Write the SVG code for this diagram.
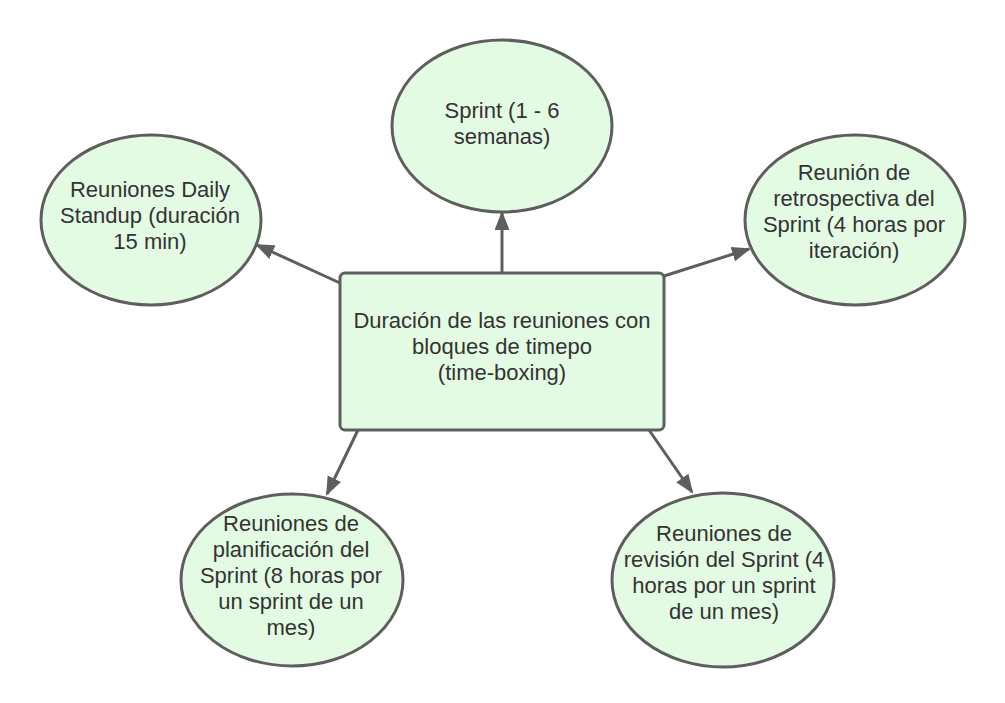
<svg xmlns="http://www.w3.org/2000/svg" width="1005" height="703" viewBox="0 0 1005 703">
<style>
.node{fill:#e3fae3;stroke:#5e5e5e;stroke-width:3}
.lbl{font-family:"Liberation Sans",Arial,sans-serif;font-size:22px;fill:#333333;text-anchor:middle}
.edge{stroke:#5e5e5e;stroke-width:3;fill:none;marker-end:url(#arr)}
</style>
<defs>
<marker id="arr" markerUnits="userSpaceOnUse" markerWidth="20" markerHeight="16" refX="17" refY="7.5" orient="auto">
<path d="M0,0 L19,7.5 L0,15 z" fill="#5e5e5e"/>
</marker>
</defs>
<rect width="1005" height="703" fill="#ffffff"/>
<g id="connectors">
<path class="edge" d="M502,272 L502,213"/>
<path class="edge" d="M340,283 L257,245"/>
<path class="edge" d="M664,276 L749,249"/>
<path class="edge" d="M358,430 L327,494"/>
<path class="edge" d="M649,430 L692,492"/>
</g>
<g id="center">
<rect class="node" x="340" y="273" width="324" height="157" rx="5"/>
<text class="lbl" x="502" y="328">Duración de las reuniones con</text>
<text class="lbl" x="502" y="354">bloques de timepo</text>
<text class="lbl" x="502" y="380">(time-boxing)</text>
</g>
<g id="sprint">
<ellipse class="node" cx="502" cy="126" rx="110" ry="86"/>
<text class="lbl" x="502" y="118">Sprint (1 - 6</text>
<text class="lbl" x="502" y="144">semanas)</text>
</g>
<g id="daily">
<ellipse class="node" cx="151" cy="220" rx="110" ry="85"/>
<text class="lbl" x="150" y="197">Reuniones Daily</text>
<text class="lbl" x="150" y="223">Standup (duración</text>
<text class="lbl" x="150" y="249">15 min)</text>
</g>
<g id="retro">
<ellipse class="node" cx="855" cy="220" rx="110" ry="85"/>
<text class="lbl" x="854" y="180">Reunión de</text>
<text class="lbl" x="854" y="206">retrospectiva del</text>
<text class="lbl" x="854" y="232">Sprint (4 horas por</text>
<text class="lbl" x="854" y="258">iteración)</text>
</g>
<g id="planificacion">
<ellipse class="node" cx="292" cy="580" rx="111" ry="86"/>
<text class="lbl" x="291" y="531">Reuniones de</text>
<text class="lbl" x="291" y="557">planificación del</text>
<text class="lbl" x="291" y="583">Sprint (8 horas por</text>
<text class="lbl" x="291" y="609">un sprint de un</text>
<text class="lbl" x="291" y="635">mes)</text>
</g>
<g id="revision">
<ellipse class="node" cx="723" cy="580" rx="111" ry="87"/>
<text class="lbl" x="724" y="541">Reuniones de</text>
<text class="lbl" x="724" y="567">revisión del Sprint (4</text>
<text class="lbl" x="724" y="593">horas por un sprint</text>
<text class="lbl" x="724" y="619">de un mes)</text>
</g>
</svg>
